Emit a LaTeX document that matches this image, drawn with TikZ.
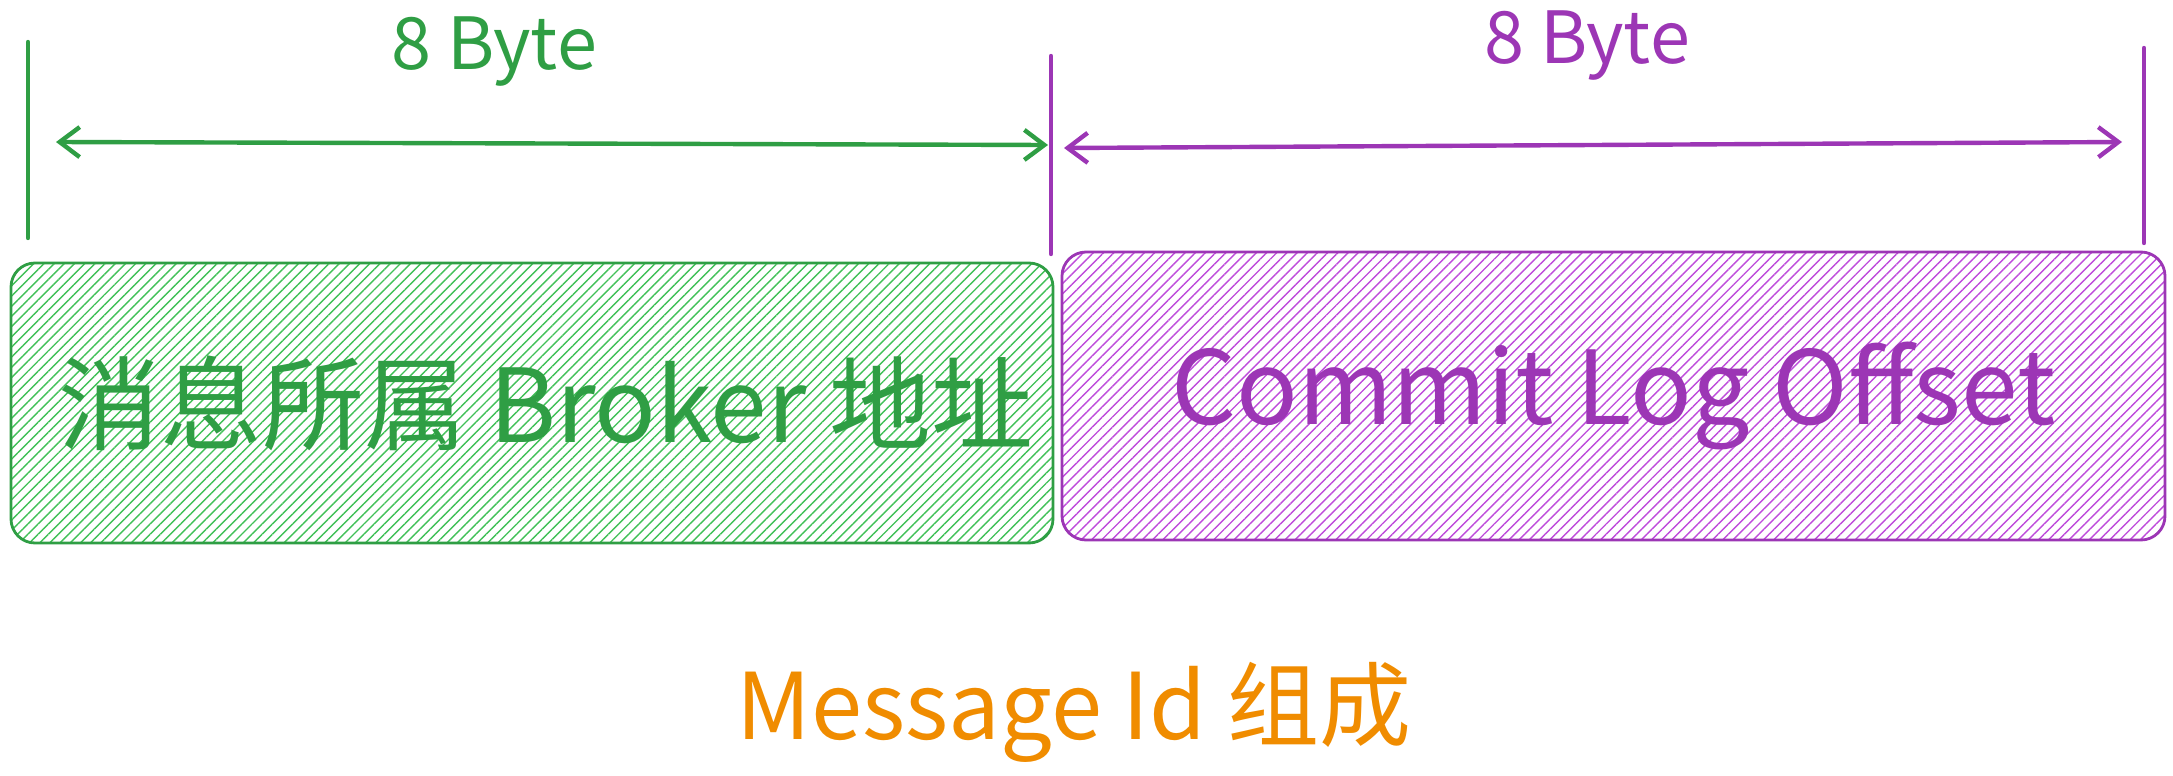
\documentclass[tikz,border=0pt]{standalone}
\usepackage{fontspec}
\setmainfont{Open Sans}
\newfontfamily\cjk{Noto Sans CJK SC}
\usetikzlibrary{arrows.meta,patterns.meta}
\definecolor{grn}{HTML}{2F9E44}
\definecolor{grnfill}{HTML}{40C057}
\definecolor{prp}{HTML}{9C36B5}
\definecolor{prpfill}{HTML}{BE4BDB}
\definecolor{org}{HTML}{F08C00}
\tikzset{
  tick/.style={line width=2.2pt,line cap=round},
  span/.style={line width=2.2pt,line cap=round,{Straight Barb[length=10pt,width=15pt]}-{Straight Barb[length=10pt,width=15pt]}},
  field/.style={draw=#1,line width=1.4pt,rounded corners=12pt,inner sep=0pt,
    pattern={Lines[angle=45,distance=3.6pt,line width=0.7pt]},pattern color=#1fill},
  fieldtxt/.style={font=\cjk\fontsize{51}{56}\selectfont},
  sizelabel/.style={font=\cjk\fontsize{36}{40}\selectfont},
}
\begin{document}
\begin{tikzpicture}[x=0.5pt,y=-0.5pt]
\useasboundingbox (0,0) rectangle (2173,776);

%Shape: Rectangle [broker]
\node[field=grn,minimum width=521pt,minimum height=140pt] (broker) at (532,403) {};
\node[fieldtxt,text=grn] (brokertxt) at ([xshift=7pt]broker.center) {消息所属 Broker 地址};
%Shape: Rectangle [offset]
\node[field=prp,minimum width=551.5pt,minimum height=144pt] (offset) at (1613.5,396) {};
\node[fieldtxt,text=prp] (offsettxt) at (offset.center) {Commit Log Offset};

%Straight Lines [ticks]
\coordinate (t1a) at (28,42);   \coordinate (t1b) at (28,238);
\coordinate (t2a) at (1051,56); \coordinate (t2b) at (1051,254);
\coordinate (t3a) at (2144,48); \coordinate (t3b) at (2144,243);
\draw[tick,grn] (t1a) -- (t1b);
\draw[tick,prp] (t2a) -- (t2b);
\draw[tick,prp] (t3a) -- (t3b);

%Straight Lines [spans]
\coordinate (a1) at (56,142);   \coordinate (a2) at (1048,145);
\coordinate (b1) at (1064,148); \coordinate (b2) at (2122,142);
\draw[span,grn] (a1) -- (a2);
\draw[span,prp] (b1) -- (b2);

% Text Node
\node[sizelabel,grn] (grnsize) at (494,52) {8 Byte};
% Text Node
\node[sizelabel,prp] (prpsize) at (1587,46) {8 Byte};
% Text Node
\node[org,font=\cjk\fontsize{46}{50}\selectfont] (caption) at (1074,712) {Message Id 组成};

\end{tikzpicture}
\end{document}
